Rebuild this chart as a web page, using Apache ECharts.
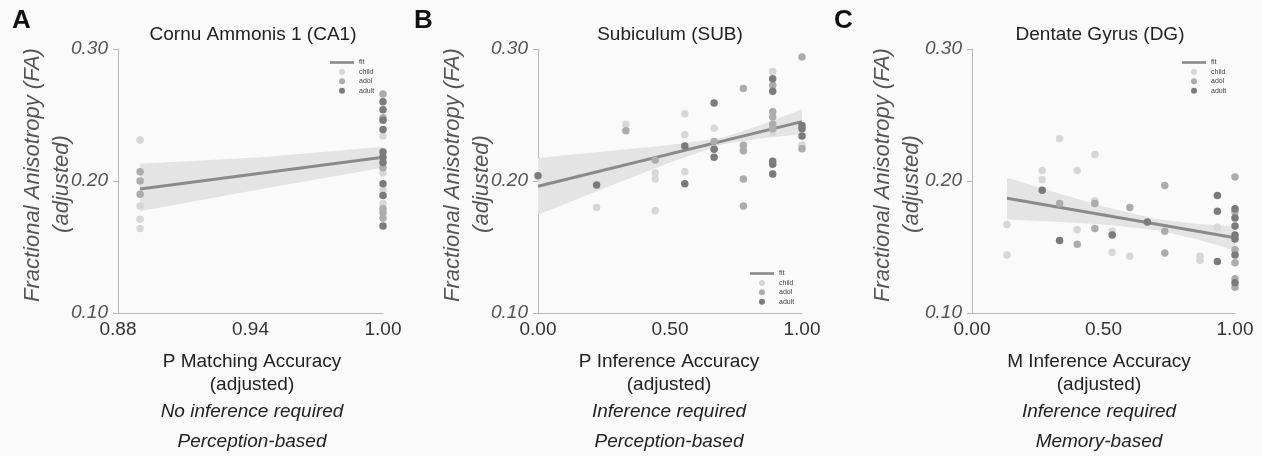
<!DOCTYPE html>
<html>
<head>
<meta charset="utf-8">
<title>FA vs accuracy</title>
<script src="https://cdn.jsdelivr.net/npm/echarts@6/dist/echarts.min.js"></script>
<style>
  html, body { margin: 0; padding: 0; background: #fafafa; }
  #chart { width: 1262px; height: 456px; }
</style>
</head>
<body>
<div id="chart"></div>
<script>
// values, [x, FA]
const panelTitles = ['Cornu Ammonis 1 (CA1)', 'Subiculum (SUB)', 'Dentate Gyrus (DG)'];
const yTicks = [0.10, 0.20, 0.30];
const caTicks = [0.88, 0.94, 1.00];
const infTicks = [0.00, 0.50, 1.00];

// A - CA1
const caChild = [[0.89, 0.231], [0.89, 0.181], [0.89, 0.171], [0.89, 0.164],
  [1, 0.234], [1, 0.206], [1, 0.193], [1, 0.183]];
const caAdol = [[0.89, 0.207], [0.89, 0.200], [0.89, 0.190],
  [1, 0.266], [1, 0.248], [1, 0.210], [1, 0.179], [1, 0.176], [1, 0.172]];
const caAdult = [[1, 0.260], [1, 0.254], [1, 0.246], [1, 0.239], [1, 0.222],
  [1, 0.218], [1, 0.214], [1, 0.198], [1, 0.189], [1, 0.166]];
const caFit = [[0.89, 0.194], [1, 0.218]];
const caBandX = [0.89, 0.945, 1.0];
const caBandLow = [0.177, 0.194, 0.210];
const caBandHigh = [0.213, 0.218, 0.226];

// B - SUB
const subChild = [[0.222, 0.180], [0.333, 0.243], [0.444, 0.206], [0.444, 0.2015], [0.444, 0.1775],
  [0.556, 0.251], [0.556, 0.235], [0.556, 0.207], [0.667, 0.240], [0.889, 0.283], [0.889, 0.237], [1, 0.227]];
const subAdol = [[0.333, 0.238], [0.444, 0.216], [0.667, 0.230], [0.778, 0.270], [0.778, 0.227],
  [0.778, 0.223], [0.778, 0.2015], [0.778, 0.181], [0.889, 0.2725], [0.889, 0.2525], [0.889, 0.2485],
  [0.889, 0.243], [0.889, 0.2395], [1, 0.294], [1, 0.2245]];
const subAdult = [[0, 0.204], [0.222, 0.197], [0.556, 0.2265], [0.556, 0.198], [0.667, 0.259],
  [0.667, 0.224], [0.667, 0.218], [0.889, 0.2775], [0.889, 0.268], [0.889, 0.215], [0.889, 0.2127],
  [0.889, 0.2053], [1, 0.242], [1, 0.2396], [1, 0.234]];
const subFit = [[0, 0.196], [1, 0.245]];
const subBandX = [0, 0.25, 0.5, 0.7, 0.85, 1];
const subBandLow = [0.1745, 0.1945, 0.2140, 0.2279, 0.2324, 0.2354];
const subBandHigh = [0.2175, 0.2223, 0.2272, 0.2327, 0.2428, 0.2544];

// C - DG
const dgChild = [[0.133, 0.167], [0.133, 0.144], [0.267, 0.208], [0.267, 0.201], [0.333, 0.232],
  [0.4, 0.208], [0.4, 0.163], [0.467, 0.220], [0.467, 0.185], [0.533, 0.162], [0.533, 0.146],
  [0.6, 0.143], [0.867, 0.143], [0.867, 0.140], [0.933, 0.165]];
const dgAdol = [[0.333, 0.183], [0.4, 0.152], [0.467, 0.183], [0.467, 0.164], [0.6, 0.180],
  [0.733, 0.1965], [0.733, 0.162], [0.733, 0.1455], [1, 0.203], [1, 0.1765], [1, 0.148],
  [1, 0.138], [1, 0.126], [1, 0.1195]];
const dgAdult = [[0.267, 0.193], [0.333, 0.155], [0.533, 0.159], [0.667, 0.169], [0.933, 0.189],
  [0.933, 0.177], [0.933, 0.139], [1, 0.179], [1, 0.172], [1, 0.166], [1, 0.159], [1, 0.156],
  [1, 0.144], [1, 0.123]];
const dgFit = [[0.133, 0.187], [1, 0.157]];
const dgBandX = [0.133, 0.3, 0.5, 0.7, 0.85, 1];
const dgBandLow = [0.1708, 0.1693, 0.1671, 0.1628, 0.1560, 0.1475];
const dgBandHigh = [0.2024, 0.1924, 0.1807, 0.1712, 0.1676, 0.1657];

const FONT = '"Liberation Sans", Arial, Helvetica, sans-serif';
const colors = { child: '#d7d7d7', adol: '#acacac', adult: '#7b7b7b', fit: '#8a8a8a', band: '#e4e4e4' };
const axisGrey = '#b8b8b8';

const myChart = echarts.init(document.getElementById('chart'));

// grids in pixels, one per panel
const grids = [
  { left: 118, width: 265, top: 49, height: 264 },
  { left: 538, width: 264, top: 49, height: 264 },
  { left: 972, width: 263, top: 49, height: 264 }
];

function makeXAxis(i, min, ticks) {
  return {
    type: 'value', gridIndex: i, min: min, max: 1,
    splitLine: { show: false },
    axisLine: { show: true, lineStyle: { color: axisGrey, width: 1 } },
    axisTick: { show: false },
    axisLabel: {
      customValues: ticks, fontSize: 19, color: '#333', fontFamily: FONT, margin: 7,
      formatter: v => v.toFixed(2)
    }
  };
}
function makeYAxis(i) {
  return {
    type: 'value', gridIndex: i, min: 0.1, max: 0.3, interval: 0.1,
    splitLine: { show: false },
    axisLine: { show: true, lineStyle: { color: axisGrey, width: 1 } },
    axisTick: { show: true, length: 5, lineStyle: { color: axisGrey } },
    axisLabel: {
      customValues: yTicks, fontSize: 19, fontStyle: 'italic', color: '#555', fontFamily: FONT, margin: 10,
      formatter: v => v.toFixed(2)
    }
  };
}

function panelSeries(i, child, adol, adult, fit, bandX, low, high) {
  const dot = (name, data) => ({
    name: name, type: 'scatter', xAxisIndex: i, yAxisIndex: i, data: data,
    symbolSize: 7.5, itemStyle: { color: colors[name], opacity: 1 }, z: 5
  });
  return [
    {
      // confidence band drawn as one polygon through the axis scales
      type: 'custom', xAxisIndex: i, yAxisIndex: i, silent: true, z: 1,
      data: bandX.map((x, k) => [x, low[k], high[k]]),
      encode: { x: 0, y: [1, 2] },
      renderItem: (params, api) => {
        if (params.dataIndex !== 0) return null;
        const pts = [];
        bandX.forEach((x, k) => pts.push(api.coord([x, high[k]])));
        for (let k = bandX.length - 1; k >= 0; k--) pts.push(api.coord([bandX[k], low[k]]));
        return { type: 'polygon', shape: { points: pts }, style: { fill: colors.band } };
      }
    },
    {
      name: 'fit', type: 'line', xAxisIndex: i, yAxisIndex: i, data: fit, symbol: 'none',
      lineStyle: { color: colors.fit, width: 3 }, itemStyle: { color: colors.fit }, z: 3
    },
    dot('child', child),
    dot('adol', adol),
    dot('adult', adult)
  ];
}

function makeLegend(left, top) {
  return {
    left: left, top: top, orient: 'vertical', padding: 0,
    data: [
      { name: 'fit', icon: 'path://M0,0H24V2.6H0Z' },
      { name: 'child', icon: 'circle' },
      { name: 'adol', icon: 'circle' },
      { name: 'adult', icon: 'circle' }
    ],
    itemWidth: 24, itemHeight: 6, itemGap: 0.4, selectedMode: false,
    textStyle: { fontSize: 7, color: '#444', fontFamily: FONT, lineHeight: 9 }
  };
}

// free text: panel letters, axis names and task notes
const graphics = [];
const letters = [['A', 12], ['B', 414], ['C', 834]];
letters.forEach(l => graphics.push({
  type: 'text', left: l[1], top: 8,
  style: { text: l[0], font: 'bold 26px ' + FONT, fill: '#111' }
}));
const yNameX = [33, 453, 883];
yNameX.forEach(x => {
  graphics.push({
    type: 'text', x: x, y: 175, rotation: Math.PI / 2,
    style: { text: 'Fractional Anisotropy (FA)', font: 'italic 22px ' + FONT, fill: '#555', align: 'center', verticalAlign: 'middle' }
  });
  graphics.push({
    type: 'text', x: x + 29, y: 184, rotation: Math.PI / 2,
    style: { text: '(adjusted)', font: 'italic 22px ' + FONT, fill: '#555', align: 'center', verticalAlign: 'middle' }
  });
});
const bottomText = [
  [252, ['P Matching Accuracy', '(adjusted)', 'No inference required', 'Perception-based']],
  [669, ['P Inference Accuracy', '(adjusted)', 'Inference required', 'Perception-based']],
  [1099, ['M Inference Accuracy', '(adjusted)', 'Inference required', 'Memory-based']]
];
const lineY = [362, 385, 412, 442];
bottomText.forEach(b => {
  b[1].forEach((t, k) => graphics.push({
    type: 'text', x: b[0], y: lineY[k],
    style: {
      text: t, font: (k >= 2 ? 'italic ' : '') + '19px ' + FONT, fill: '#222',
      align: 'center', verticalAlign: 'middle'
    }
  }));
});

const option = {
  backgroundColor: '#fafafa',
  animation: false,
  title: panelTitles.map((t, i) => ({
    text: t, left: [253, 670, 1100][i], top: 25, textAlign: 'center', padding: 0,
    textStyle: { fontSize: 19, fontWeight: 'normal', color: '#222', fontFamily: FONT }
  })),
  legend: [makeLegend(330, 58), makeLegend(750, 269), makeLegend(1182, 58)],
  grid: grids,
  xAxis: [makeXAxis(0, 0.88, caTicks), makeXAxis(1, 0, infTicks), makeXAxis(2, 0, infTicks)],
  yAxis: [makeYAxis(0), makeYAxis(1), makeYAxis(2)],
  graphic: graphics,
  series: [].concat(
    panelSeries(0, caChild, caAdol, caAdult, caFit, caBandX, caBandLow, caBandHigh),
    panelSeries(1, subChild, subAdol, subAdult, subFit, subBandX, subBandLow, subBandHigh),
    panelSeries(2, dgChild, dgAdol, dgAdult, dgFit, dgBandX, dgBandLow, dgBandHigh)
  )
};

myChart.setOption(option);
</script>
</body>
</html>
